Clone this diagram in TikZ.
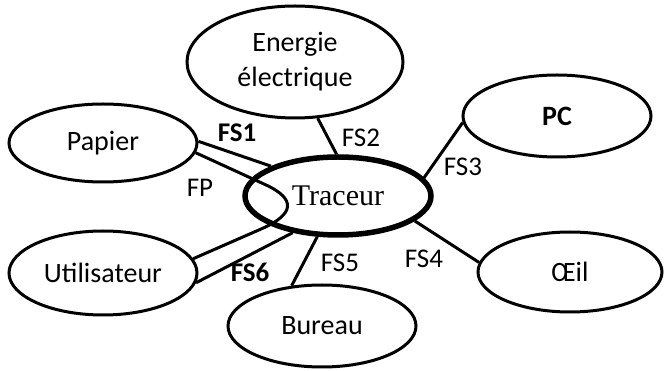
\documentclass[tikz,border=0pt]{standalone}
\usepackage{fontspec}
\setmainfont{Carlito}
\newfontfamily\tnr{Liberation Serif}
\usetikzlibrary{shapes.geometric}
\begin{document}
\begin{tikzpicture}[x=1pt,y=-1pt,
  ell/.style={ellipse,draw,line width=3pt,inner sep=0pt,align=center,
    font=\fontsize{28}{35}\selectfont},
  lbl/.style={inner sep=0pt,font=\fontsize{27}{32}\selectfont},
  lblb/.style={inner sep=0pt,font=\bfseries\fontsize{27}{32}\selectfont},
  lnk/.style={line width=3pt}]
\useasboundingbox (0,0) rectangle (665,371);
% ellipses
\node[ell,minimum width=216pt,minimum height=112pt] (ene) at (295,62) {Energie\\électrique};
\node[ell,minimum width=188pt,minimum height=78pt] (pap) at (103,143) {Papier};
\node[ell,minimum width=188pt,minimum height=84pt] (uti) at (103,273) {Utilisateur};
\node[ell,line width=5.5pt,minimum width=186pt,minimum height=78pt,
      font=\tnr\fontsize{30}{36}\selectfont] (tra) at (338,196) {Traceur};
\node[ell,minimum width=188pt,minimum height=82pt,font=\bfseries\fontsize{28}{35}\selectfont] (pc) at (557,116) {PC};
\node[ell,minimum width=184pt,minimum height=80pt] (oei) at (570,272) {Œil};
\node[ell,minimum width=188pt,minimum height=82pt] (bur) at (322,326) {Bureau};
% connectors
\draw[lnk] (ene.-68) -- (tra.92);
\draw[lnk] (pc.184) -- (tra.12);
\draw[lnk] (tra.-18) -- (oei.174);
\draw[lnk] (tra.-117) -- (bur.127);
\draw[lnk] (uti.-6) -- (tra.-141);
\draw[lnk] (pap.1) -- (tra.156);
\coordinate (fpa) at (265,184.5);
\coordinate (fpb) at (262,228.6);
\draw[lnk] (pap.-6) -- (fpa) .. controls (297,199) and (294,214.5) .. (fpb) -- (uti.9);
% labels
\node[lblb] (fs1) at (237,133) {FS1};
\node[lbl] (fp) at (200,188) {FP};
\node[lblb] (fs6) at (250,272) {FS6};
\node[lbl] (fs2) at (361,138) {FS2};
\node[lbl] (fs3) at (463,167) {FS3};
\node[lbl] (fs4) at (424,259) {FS4};
\node[lbl] (fs5) at (340,263) {FS5};
\end{tikzpicture}
\end{document}
